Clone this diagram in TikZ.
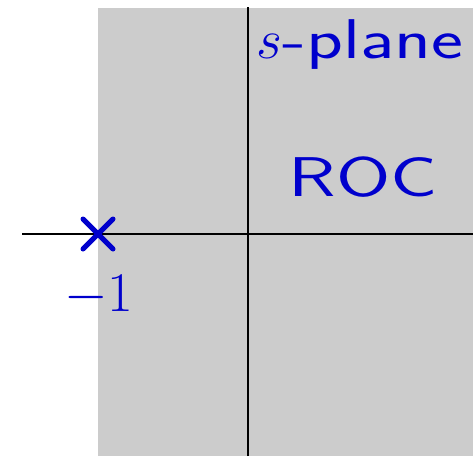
\RequirePackage{fix-cm}
\documentclass[tikz,border=0pt]{standalone}
\usepackage{graphicx}
\definecolor{roc}{RGB}{204,204,204}
\definecolor{lbl}{RGB}{0,0,204}
\newcommand{\wide}[2]{\scalebox{#1}[1]{#2}}
\begin{document}
\begin{tikzpicture}[x=1pt,y=1pt,
  axis/.style={line width=2pt,black},
  lab/.style={text=lbl,font=\sffamily\fontsize{56}{60}\selectfont,inner sep=0pt},
  polemark/.style={line width=5pt,lbl,line cap=round}]
\useasboundingbox (0,0) rectangle (473,456);
\fill[roc] (98,0) rectangle (473,448);
\draw[axis] (248,0) -- (248,449);
\draw[axis] (22,222) -- (473,222);
\coordinate (p) at (98,222);
\draw[polemark] ([shift={(-15,-15)}]p) -- ([shift={(15,15)}]p);
\draw[polemark] ([shift={(-15,15)}]p) -- ([shift={(15,-15)}]p);
\node[lab] (m1) at (99,160) {$-1$};
\node[lab] (roc) at (363,279) {\wide{1.4}{ROC}};
\node[lab] (sp) at (360,411) {$s$\wide{1.36}{-plane}};
\end{tikzpicture}
\end{document}
